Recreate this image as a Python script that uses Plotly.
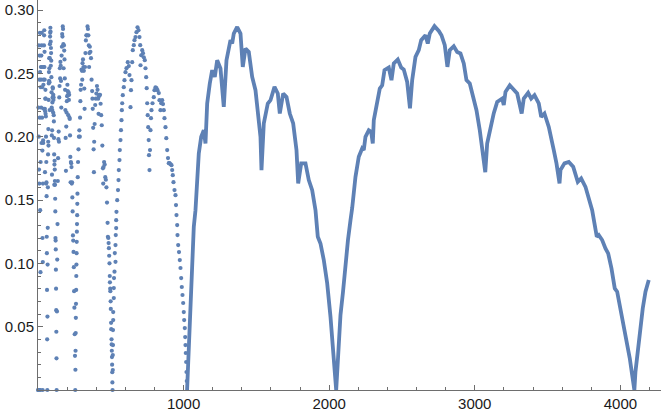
import plotly.graph_objects as go

# values (n, value)

# n = 1 .. 63, the first narrow columns next to the y axis
low_n = list(range(1, 64))
low_v = [0, 0, 0.223, 0, 0.2, 0.272, 0.174, 0, 0.163, 0.245, 0.264, 0.215, 0.282, 0.251, 0.142,
         0, 0.093, 0.18, 0.239, 0.255, 0.245, 0.223, 0.264, 0.195, 0.272, 0.282, 0.255, 0.215, 0.239, 0.189, 0.12,
         0, 0.101, 0.163, 0.197, 0.195, 0.241, 0.245, 0.255, 0.222, 0.272, 0.28, 0.284, 0.255, 0.267, 0.245,
         0.222, 0.172, 0.22, 0.23, 0.237, 0.218, 0.23, 0.216, 0.2, 0.163, 0.18, 0.164, 0.153, 0.121, 0.108,
         0.079, 0.04]

# n = 64 .. 127
arch64_n = list(range(64, 128))
arch64_v = [0, 0.058, 0.099, 0.128, 0.16, 0.186, 0.196, 0.206, 0.193, 0.229, 0.242, 0.251, 0.244, 0.262,
            0.254, 0.243, 0.221, 0.262, 0.273, 0.279, 0.282, 0.286, 0.283, 0.275, 0.256, 0.27, 0.266, 0.26,
            0.247, 0.235, 0.223, 0.201, 0.17, 0.205, 0.221, 0.227, 0.231, 0.239, 0.238, 0.231, 0.219, 0.233,
            0.229, 0.231, 0.217, 0.212, 0.199, 0.186, 0.162, 0.178, 0.181, 0.174, 0.165, 0.162, 0.151, 0.141,
            0.12, 0.118, 0.111, 0.095, 0.08, 0.063, 0.046, 0.025]

# n = 128 .. 254, every other point
arch128_n = list(range(128, 256, 2))
arch128_v = [0, 0.062, 0.103, 0.131, 0.165, 0.183, 0.198, 0.204, 0.196, 0.231, 0.24, 0.254, 0.246, 0.259,
             0.256, 0.244, 0.223, 0.264, 0.271, 0.281, 0.279, 0.287, 0.285, 0.273, 0.254, 0.272, 0.268,
             0.261, 0.246, 0.237, 0.221, 0.199, 0.173, 0.208, 0.219, 0.228, 0.232, 0.241, 0.236, 0.233,
             0.217, 0.235, 0.229, 0.233, 0.215, 0.214, 0.201, 0.184, 0.164, 0.18, 0.179, 0.176, 0.163,
             0.164, 0.152, 0.141, 0.122, 0.118, 0.109, 0.097, 0.078, 0.065, 0.044, 0.027]

arch256_n = [256, 257, 258, 259, 260, 261, 262, 263, 264, 265, 266, 267, 268, 269, 270, 271, 273, 275,
             278, 281, 284, 287, 289, 291, 293, 296, 299, 302, 304, 306, 309, 312, 315, 318, 320, 323,
             326, 329, 332, 336, 340, 343, 346, 349, 351, 353, 356, 360, 364, 368, 372, 374, 376, 379,
             382, 384, 386, 389, 393, 397, 401, 405, 409, 413, 416, 419, 422, 426, 430, 434, 438, 442,
             446, 448, 450, 454, 458, 462, 466, 470, 474, 478, 480, 483, 485, 487, 489, 491, 493, 494,
             496, 497, 499, 500, 502, 503, 505, 506, 507, 508, 509, 510, 511]
arch256_v = [0, 0.016, 0.031, 0.045, 0.057, 0.068, 0.079, 0.09, 0.099, 0.108, 0.117, 0.125, 0.131, 0.138,
             0.147, 0.155, 0.168, 0.18, 0.19, 0.2, 0.205, 0.2, 0.215, 0.228, 0.237, 0.241, 0.253, 0.252,
             0.245, 0.258, 0.261, 0.255, 0.252, 0.238, 0.222, 0.255, 0.266, 0.276, 0.28, 0.28, 0.287,
             0.285, 0.28, 0.272, 0.255, 0.266, 0.271, 0.267, 0.262, 0.245, 0.236, 0.23, 0.222, 0.207,
             0.19, 0.172, 0.196, 0.21, 0.225, 0.23, 0.234, 0.24, 0.237, 0.23, 0.218, 0.232, 0.233, 0.233,
             0.226, 0.217, 0.209, 0.193, 0.175, 0.163, 0.176, 0.18, 0.178, 0.168, 0.166, 0.16, 0.148,
             0.132, 0.121, 0.12, 0.116, 0.112, 0.106, 0.1, 0.09, 0.085, 0.08, 0.078, 0.07, 0.064, 0.053,
             0.048, 0.04, 0.036, 0.031, 0.026, 0.02, 0.014, 0.006]

arch512_n = [512, 513.7, 513.7, 515, 515, 516.5, 516.5, 520.6, 520.6, 522, 525.4, 532.3, 527.5, 532.3,
             534, 537, 537, 539, 544, 549.4, 553, 555, 559.7, 561.8, 566.6, 570, 573.5, 576, 578.3,
             582.4, 589.3, 594, 601, 607.8, 616.7, 623.6, 628.4, 635.3, 638.7, 642.2, 647, 651, 658,
             662.7, 669.6, 676.5, 683.4, 690.2, 697.1, 702, 704, 708.8, 715.6, 721, 726.6, 733.5, 738.3,
             743, 746.5, 750, 753.4, 756.9, 760.3, 762.3, 765.8, 769.2, 772.7, 776, 779.5, 786.4, 795.3,
             800, 807, 813.8, 820.7, 829.7, 834.5, 841.3, 846.1, 853, 858.5, 864, 868.8, 875.7, 881.2,
             887.3, 892.8, 898.3, 903.1, 910, 916.9, 921.7, 925.8, 930.6, 937.5, 944.4, 947.8, 951.2,
             956, 958, 962.9, 968.4, 973.9, 978.7, 983.5, 987.6, 992.4, 997.2, 1001.3, 1004.1, 1008.2,
             1011, 1013, 1015.1, 1017.8, 1019.9, 1022]
arch512_v = [0, 0.0158, 0.0276, 0.0355, 0.0473, 0.0552, 0.0615, 0.0726, 0.0805, 0.0884, 0.0934, 0.1012,
             0.1081, 0.1144, 0.1223, 0.1278, 0.1341, 0.1407, 0.1499, 0.1578, 0.1657, 0.1736, 0.1815,
             0.1894, 0.1973, 0.2051, 0.213, 0.2209, 0.2264, 0.2328, 0.2391, 0.2446, 0.2509, 0.2541,
             0.2588, 0.2557, 0.2486, 0.2233, 0.2367, 0.2446, 0.2588, 0.2683, 0.2722, 0.2762, 0.2786,
             0.2825, 0.2864, 0.2841, 0.2786, 0.2722, 0.2564, 0.2643, 0.2683, 0.2659, 0.2627, 0.2604,
             0.254, 0.247, 0.2383, 0.2264, 0.217, 0.2075, 0.1973, 0.1854, 0.1736, 0.1894, 0.2051, 0.2146,
             0.2209, 0.2264, 0.2312, 0.2367, 0.239, 0.2383, 0.2367, 0.2344, 0.2288, 0.2209, 0.2264, 0.2288,
             0.2257, 0.2209, 0.2146, 0.2075, 0.1988, 0.1894, 0.1831, 0.1791, 0.1791, 0.1783, 0.1775,
             0.1736, 0.1696, 0.1641, 0.1578, 0.1538, 0.146, 0.1381, 0.1302, 0.1223, 0.1144, 0.1089,
             0.1026, 0.0963, 0.0884, 0.0813, 0.075, 0.0687, 0.0615, 0.0552, 0.0489, 0.0418, 0.0355,
             0.0292, 0.0221, 0.0142, 0.0071]

# from 1024 on the points merge into one thick band
arch1024_n = [1024, 1035.7, 1047.4, 1059, 1070, 1081.7, 1093.4, 1104.4, 1120.9, 1138.7, 1150.4, 1162,
              1179.9, 1196.4, 1214.3, 1230.7, 1253.4, 1276, 1294.6, 1322.1, 1333.8, 1344.7, 1368.1,
              1390.8, 1406.5, 1425.1, 1447.8, 1471.1, 1493.8, 1509.6, 1528.1, 1535, 1550.8, 1578.3,
              1596.8, 1624.3, 1647, 1660.7, 1684, 1706.7, 1729.4, 1752.7, 1775.4, 1787, 1807.7, 1837.2,
              1859.9, 1883.2, 1905.9, 1921.7, 1940.2, 1962.9, 1986.2, 2008.9, 2027.4]
arch1024_v = [0, 0.0368, 0.0763, 0.1026, 0.1288, 0.142, 0.1683, 0.1868, 0.1999, 0.2051, 0.1946, 0.2262,
              0.242, 0.2525, 0.2472, 0.2604, 0.2538, 0.2235, 0.2604, 0.2762, 0.2735, 0.2814, 0.2866,
              0.2814, 0.2551, 0.2696, 0.2669, 0.2472, 0.2367, 0.2209, 0.1999, 0.1736, 0.2104, 0.2262,
              0.2288, 0.2393, 0.2341, 0.2183, 0.2341, 0.2314, 0.2183, 0.2104, 0.1894, 0.1631, 0.1789,
              0.1789, 0.1657, 0.1578, 0.142, 0.121, 0.1157, 0.1026, 0.0842, 0.0578, 0.0316]

arch2048_n = [2048, 2063.8, 2077.6, 2094.7, 2111.9, 2129, 2146.3, 2157.9, 2180.6, 2203.2, 2226.6, 2237.6,
              2249.2, 2271.9, 2288.4, 2299.4, 2306.3, 2329.6, 2347.5, 2364, 2379.8, 2409.3, 2427.8,
              2443.6, 2471.1, 2494.4, 2512.3, 2535.7, 2555, 2570, 2592.7, 2615.3, 2631.8, 2661.4, 2677.1,
              2690.9, 2723.2, 2752.7, 2771.2, 2793.9, 2812, 2828.2, 2855.7, 2879, 2901.7, 2924.4, 2942.9,
              2965.6, 2989, 3011.6, 3034.3, 3052.8, 3072, 3085, 3107.7, 3130.5, 3153.8, 3188.1, 3199.1,
              3210.9, 3240.3, 3267.8, 3291.1, 3322, 3336.5, 3366.7, 3387.3, 3410, 3439.5, 3456, 3478.6,
              3508.2, 3524.7, 3542.5, 3561.1, 3582, 3588.6, 3616, 3645.5, 3675.8, 3707.4, 3730.7, 3760.2,
              3782.9, 3806.2, 3822, 3838, 3851.5, 3874.9, 3897.6, 3916.1, 3938.8, 3961.4, 3977.9, 4000.6,
              4023.2, 4046.6, 4064.5, 4081]
arch2048_v = [0, 0.0316, 0.0592, 0.0773, 0.101, 0.1184, 0.1341, 0.1436, 0.1683, 0.1841, 0.1907, 0.1894,
              0.1999, 0.2051, 0.2038, 0.1946, 0.213, 0.2288, 0.238, 0.2406, 0.2525, 0.2546, 0.2446,
              0.2578, 0.2609, 0.2546, 0.253, 0.2432, 0.2223, 0.2446, 0.263, 0.2683, 0.2762, 0.2801, 0.2735,
              0.2814, 0.2872, 0.2835, 0.2801, 0.2722, 0.2551, 0.2683, 0.2714, 0.2669, 0.2657, 0.2578,
              0.2446, 0.242, 0.2314, 0.2209, 0.2051, 0.1894, 0.172, 0.1946, 0.2067, 0.2186, 0.2275, 0.2301,
              0.2249, 0.2354, 0.2406, 0.2367, 0.2341, 0.2183, 0.2301, 0.2346, 0.2301, 0.2328, 0.2262,
              0.2156, 0.2183, 0.2077, 0.1999, 0.1894, 0.1789, 0.1631, 0.1736, 0.1789, 0.1801, 0.1762,
              0.1643, 0.167, 0.1604, 0.1525, 0.142, 0.1315, 0.121, 0.1223, 0.1184, 0.1118, 0.1079, 0.096,
              0.0802, 0.0776, 0.0645, 0.0487, 0.0381, 0.025, 0.0118]

tail_n = [4096, 4103.6, 4122.1, 4138, 4153.8, 4172.4, 4195]
tail_v = [0, 0.0144, 0.0329, 0.0513, 0.0645, 0.0776, 0.0868]

y_ticks = [0.05, 0.10, 0.15, 0.20, 0.25, 0.30]
x_ticks = [1000, 2000, 3000, 4000]

blue = "#5E81B5"
axis_grey = "#6e6e6e"

fig = go.Figure()

# scattered points for small n
for xs, ys in [(low_n, low_v), (arch64_n, arch64_v), (arch128_n, arch128_v),
               (arch256_n, arch256_v), (arch512_n, arch512_v)]:
    fig.add_trace(go.Scatter(x=xs, y=ys, mode="markers",
                             marker=dict(color=blue, size=4.2, line=dict(width=0)),
                             cliponaxis=False, hoverinfo="skip"))

# dense part drawn as a thick band
band_n = arch1024_n + arch2048_n + tail_n
band_v = arch1024_v + arch2048_v + tail_v
fig.add_trace(go.Scatter(x=band_n, y=band_v, mode="lines",
                         line=dict(color=blue, width=3.8),
                         cliponaxis=False, hoverinfo="skip"))

fig.update_layout(
    width=661,
    height=415,
    margin=dict(l=38, r=0, t=0, b=25),
    plot_bgcolor="white",
    paper_bgcolor="white",
    showlegend=False,
    font=dict(family="Liberation Sans, Arial, sans-serif", size=15, color="#1a1a1a"),
)

fig.update_xaxes(
    range=[0, 4279],
    showgrid=False, zeroline=False,
    showline=True, linecolor=axis_grey, linewidth=1,
    ticks="inside", ticklen=5, tickcolor=axis_grey,
    tickvals=x_ticks, ticktext=[str(v) for v in x_ticks],
    minor=dict(ticks="inside", ticklen=3, tickcolor=axis_grey, tickmode="linear",
               tick0=0, dtick=200, showgrid=False),
)
fig.update_yaxes(
    range=[0, 0.3079],
    showgrid=False, zeroline=False,
    showline=True, linecolor=axis_grey, linewidth=1,
    ticks="inside", ticklen=5, tickcolor=axis_grey,
    tickvals=y_ticks, ticktext=["%.2f" % v for v in y_ticks],
    minor=dict(ticks="inside", ticklen=3, tickcolor=axis_grey, tickmode="linear",
               tick0=0, dtick=0.01, showgrid=False),
)

# the page's default body margin would shift the figure, drop it
fig.write_html("out.html",
               config={"displayModeBar": False},
               post_script="document.body.style.margin='0';document.body.style.overflow='hidden';")
